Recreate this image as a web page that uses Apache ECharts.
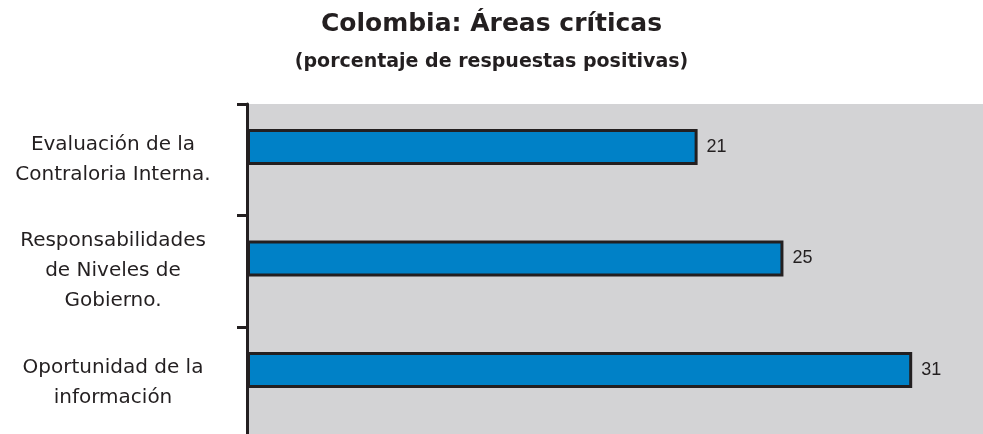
<!DOCTYPE html>
<html>
<head>
<meta charset="utf-8">
<script src="https://cdn.jsdelivr.net/npm/echarts@6/dist/echarts.min.js"></script>
<style>
  html, body { margin: 0; padding: 0; background: #fff; }
  #chart { width: 983px; height: 434px; }
</style>
</head>
<body>
<div id="chart"></div>
<script>
var categories = [
	'Evaluación de la\nContraloria Interna.',
	'Responsabilidades\nde Niveles de\nGobierno.',
	'Oportunidad de la\ninformación'
];
var values = [21, 25, 31];
var titleText = 'Colombia: Áreas críticas';
var subtitleText = '(porcentaje de respuestas positivas)';

var chart = echarts.init(document.getElementById('chart'));
var option = {
	backgroundColor: '#ffffff',
	animation: false,
	title: {
		text: titleText,
		subtext: subtitleText,
		left: 'center',
		top: 7,
		itemGap: 16,
		textStyle: {
			fontFamily: 'DejaVu Sans',
			fontWeight: 'bold',
			fontSize: 25,
			color: '#231f20'
		},
		subtextStyle: {
			fontFamily: 'DejaVu Sans',
			fontWeight: 'bold',
			fontSize: 19,
			color: '#231f20'
		}
	},
	grid: {
		left: 247,
		width: 736,
		top: 104,
		height: 334.5,
		outerBoundsMode: 'none',
		containLabel: false,
		show: true,
		backgroundColor: '#d3d3d5',
		borderWidth: 0
	},
	xAxis: {
		type: 'value',
		min: 0,
		max: 34.3,
		show: false,
		splitLine: { show: false }
	},
	yAxis: {
		type: 'category',
		inverse: true,
		data: categories,
		axisLine: { show: true, lineStyle: { color: '#231f20', width: 3 } },
		axisTick: {
			show: true,
			inside: false,
			interval: 0,
			length: 10,
			lineStyle: { color: '#231f20', width: 3 }
		},
		axisLabel: {
			align: 'center',
			margin: 134,
			padding: [5, 0, 0, 0],
			fontFamily: 'DejaVu Sans',
			fontSize: 20,
			lineHeight: 30,
			color: '#231f20'
		}
	},
	series: [{
		name: 'valor',
		type: 'bar',
		data: values,
		barWidth: 36,
		barGap: 0,
		itemStyle: {
			color: '#0081c7',
			borderColor: '#231f20',
			borderWidth: 3
		},
		label: {
			show: true,
			position: 'right',
			distance: 9,
			fontFamily: 'Liberation Sans',
			fontSize: 18,
			color: '#231f20'
		}
	}, {
		name: 'hueco',
		type: 'bar',
		data: [null, null, null],
		barWidth: 25.5,
		silent: true,
		itemStyle: { color: 'transparent' }
	}]
};
chart.setOption(option);
</script>
</body>
</html>
